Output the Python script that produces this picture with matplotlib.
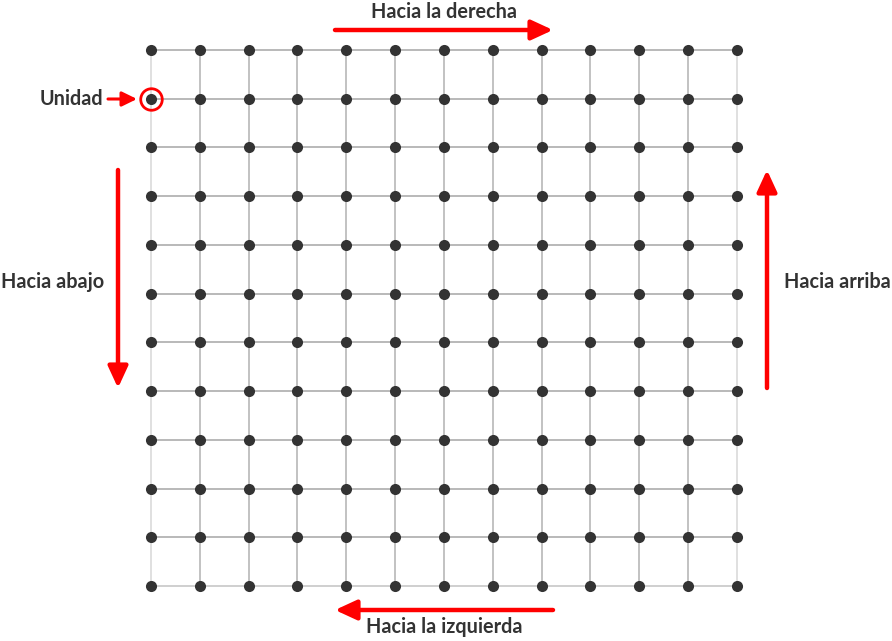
import matplotlib
matplotlib.use("Agg")
import matplotlib.pyplot as plt
import numpy as np

# Data
n_cols = 13
n_rows = 12
cols = list(range(n_cols))
rows = list(range(n_rows))
unit_cell = (0, 1)  # (col, row)
labels = {
    "right": "Hacia la derecha",
    "left": "Hacia la izquierda",
    "down": "Hacia abajo",
    "up": "Hacia arriba",
    "unit": "Unidad",
}

RED = "#ff0000"
DARK = "#333333"
FONT = ["Lato", "DejaVu Sans"]

fig = plt.figure(figsize=(8.92, 6.41), dpi=100)
ax = fig.add_axes([0, 0, 1, 1])
sx, sy = 48.83, 48.73
ax.set_xlim(-151 / sx, (892 - 151) / sx)
ax.set_ylim((641 - 50) / sy, -50 / sy)
ax.axis("off")

# grid lines
for i in cols:
    c = "#dddddd" if i in (cols[0], cols[-1]) else "#bdbdbd"
    ax.plot([i, i], [rows[0], rows[-1]], color=c, lw=1.3, zorder=1)
for j in rows:
    c = "#cccccc" if j == rows[-1] else "#b3b3b3"
    ax.plot([cols[0], cols[-1]], [j, j], color=c, lw=1.3, zorder=1)

X, Y = np.meshgrid(cols, rows)
ax.plot(X.ravel(), Y.ravel(), "o", color=DARK, ms=8, mew=0, zorder=3)

# unit circle
ax.plot([unit_cell[0]], [unit_cell[1]], "o", ms=15.5, mfc="none", mec=RED, mew=2, zorder=4)

def arrow(x0, y0, x1, y1, hl=0.65, hw=0.3, lw=3.2):
    ax.annotate("", xy=(x1, y1), xytext=(x0, y0),
                arrowprops=dict(arrowstyle=f"-|>,head_length={hl},head_width={hw}",
                                mutation_scale=20, color=RED, lw=lw,
                                shrinkA=0, shrinkB=0), zorder=5)

def px(x):
    return (x - 151) / sx

def py(y):
    return (y - 50) / sy

arrow(px(335), py(30), px(553), py(30))
arrow(px(553), py(610), px(335), py(610))
arrow(px(118), py(170), px(118), py(388))
arrow(px(767), py(388), px(767), py(170))
arrow(px(108), py(99), px(137), py(99), hl=0.45, hw=0.22, lw=2.2)

fs = 14.3
kw = dict(family=FONT, fontweight="bold", color=DARK, fontsize=fs)
ax.text(px(444), py(12), labels["right"], ha="center", va="center", **kw)
ax.text(px(444), py(627), labels["left"], ha="center", va="center", **kw)
ax.text(px(1), py(282), labels["down"], ha="left", va="center", **kw)
ax.text(px(891), py(282), labels["up"], ha="right", va="center", **kw)
ax.text(px(103), py(99), labels["unit"], ha="right", va="center", **kw)

fig.savefig("out.png", dpi=100)
